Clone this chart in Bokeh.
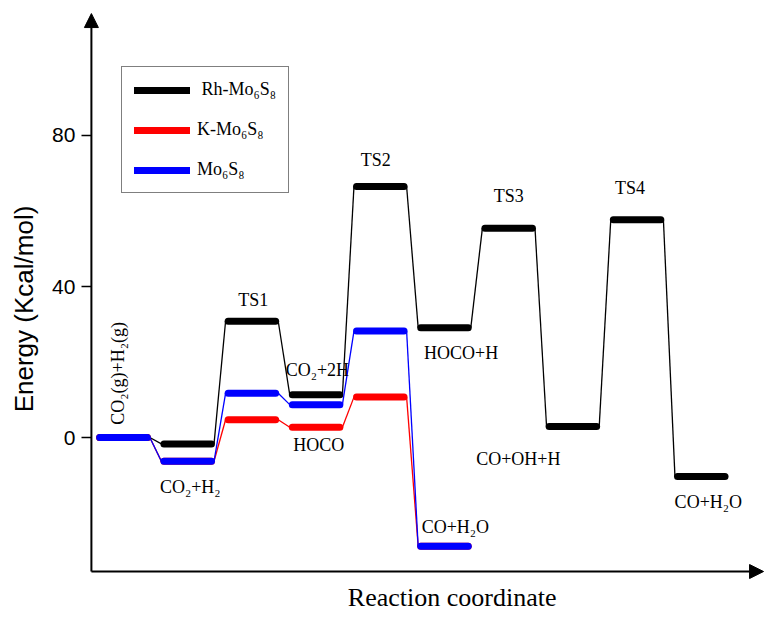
import math
from bokeh.plotting import figure
from bokeh.models import (Range1d, FixedTicker, Legend, LegendItem, Arrow,
                          NormalHead, Label)
from bokeh.core.properties import value
from bokeh.embed import file_html
from bokeh.resources import INLINE

# ---- data ----
steps = [1, 2, 3, 4, 5, 6, 7, 8, 9, 10]
rh_mo6s8 = [0.0, -1.7, 30.8, 11.3, 66.5, 29.1, 55.4, 2.9, 57.7, -10.3]
k_mo6s8 = [0.0, -6.3, 4.7, 2.7, 10.7, -28.8]
mo6s8 = [0.0, -6.3, 11.7, 8.7, 28.2, -28.8]
series_names = ["\u00a0Rh-Mo\u2086S\u2088", "K-Mo\u2086S\u2088", "Mo\u2086S\u2088"]
y_ticks = [0, 40, 80]

label_texts = ["CO\u2082+H\u2082", "TS1", "CO\u2082+2H", "HOCO", "TS2",
               "HOCO+H", "TS3", "TS4", "CO+OH+H", "CO+H\u2082O", "CO+H\u2082O"]
label_x = [2.04, 3.02, 4.02, 4.04, 4.93, 6.26, 7.0, 8.89, 7.15, 6.17, 10.11]
label_y = [-13.0, 36.3, 18.0, -1.9, 73.4, 22.3, 64.1, 66.0, -5.6, -23.8, -17.2]
rot_text = "CO\u2082(g)+H\u2082(g)"
rot_x, rot_y = 0.92, 17.0
x_title = "Reaction coordinate"
y_title = "Energy (Kcal/mol)"

# ---- styles / layout ----
colors = ["black", "red", "blue"]
HALF = 0.37
GAP = 0.41
SERIF = "Liberation Serif"
SANS = "Liberation Sans"

XMIN, XMAX = -0.916, 11.016         # frame extent (data)
YMIN, YMAX = -47.68, 115.76
AX_X, AX_Y = 0.5, -35.5             # where the axes cross
AX_XEND, AX_YEND = 10.97, 112.3     # arrow tips

p = figure(frame_width=766, frame_height=617,
           x_range=Range1d(XMIN, XMAX), y_range=Range1d(YMIN, YMAX),
           output_backend="svg", toolbar_location=None,
           min_border_left=0, min_border_top=0, min_border_right=0,
           min_border_bottom=0)
p.outline_line_color = None
p.xgrid.visible = False
p.ygrid.visible = False
p.xaxis.visible = False

renderers = []
for vals, col in zip([rh_mo6s8, k_mo6s8, mo6s8], colors):
    xs = steps[:len(vals)]
    p.segment(x0=[x + GAP for x in xs[:-1]], y0=vals[:-1],
              x1=[x - GAP for x in xs[1:]], y1=vals[1:],
              line_color=col, line_width=1.3)
    r = p.segment(x0=[x - HALF for x in xs], y0=vals,
                  x1=[x + HALF for x in xs], y1=vals,
                  line_color=col, line_width=7, line_cap="round")
    renderers.append(r)

legend = Legend(items=[LegendItem(label=n, renderers=[r]) for n, r in zip(series_names, renderers)],
                location=(121, 424), glyph_width=56, glyph_height=20,
                label_standoff=7, padding=12, spacing=19, margin=0,
                border_line_color="black", border_line_width=1,
                background_fill_alpha=1.0,
                label_text_font=SERIF, label_text_font_size="18px",
                label_text_color="black")
p.add_layout(legend)

p.text(x=label_x, y=label_y, text=label_texts, text_font=value(SERIF),
       text_font_size="18px", text_align="center", text_baseline="middle",
       text_color="black")
p.text(x=[rot_x], y=[rot_y], text=[rot_text], angle=math.pi / 2,
       text_font=value(SERIF), text_font_size="18px", text_align="center",
       text_baseline="middle", text_color="black")

# y axis (ticks + labels) pinned at the axis crossing
p.yaxis.fixed_location = AX_X
p.yaxis.ticker = FixedTicker(ticks=y_ticks)
p.yaxis.minor_tick_line_color = None
p.yaxis.major_tick_out = 10
p.yaxis.major_tick_in = 0
p.yaxis.major_tick_line_width = 1.5
p.yaxis.major_tick_line_color = "black"
p.yaxis.axis_line_color = None
p.yaxis.major_label_text_font = SANS
p.yaxis.major_label_text_font_size = "21px"
p.yaxis.major_label_text_color = "black"
p.yaxis.major_label_standoff = 6
p.yaxis.axis_label = y_title
p.yaxis.axis_label_text_font = SANS
p.yaxis.axis_label_text_font_size = "26px"
p.yaxis.axis_label_text_font_style = "normal"
p.yaxis.axis_label_text_color = "black"
p.yaxis.axis_label_standoff = 10

head = dict(size=14, fill_color="black", line_color="black")
p.add_layout(Arrow(x_start=AX_X, y_start=AX_Y, x_end=AX_X, y_end=AX_YEND,
                   line_width=2, end=NormalHead(**head)))
p.add_layout(Arrow(x_start=AX_X, y_start=AX_Y, x_end=AX_XEND, y_end=AX_Y,
                   line_width=2, end=NormalHead(**head)))

p.add_layout(Label(x=6.12, y=-42.4, text=x_title,
                   text_font=SERIF, text_font_size="26px", text_color="black",
                   text_align="center", text_baseline="middle"))

open("out.html", "w").write(file_html(p, INLINE))
